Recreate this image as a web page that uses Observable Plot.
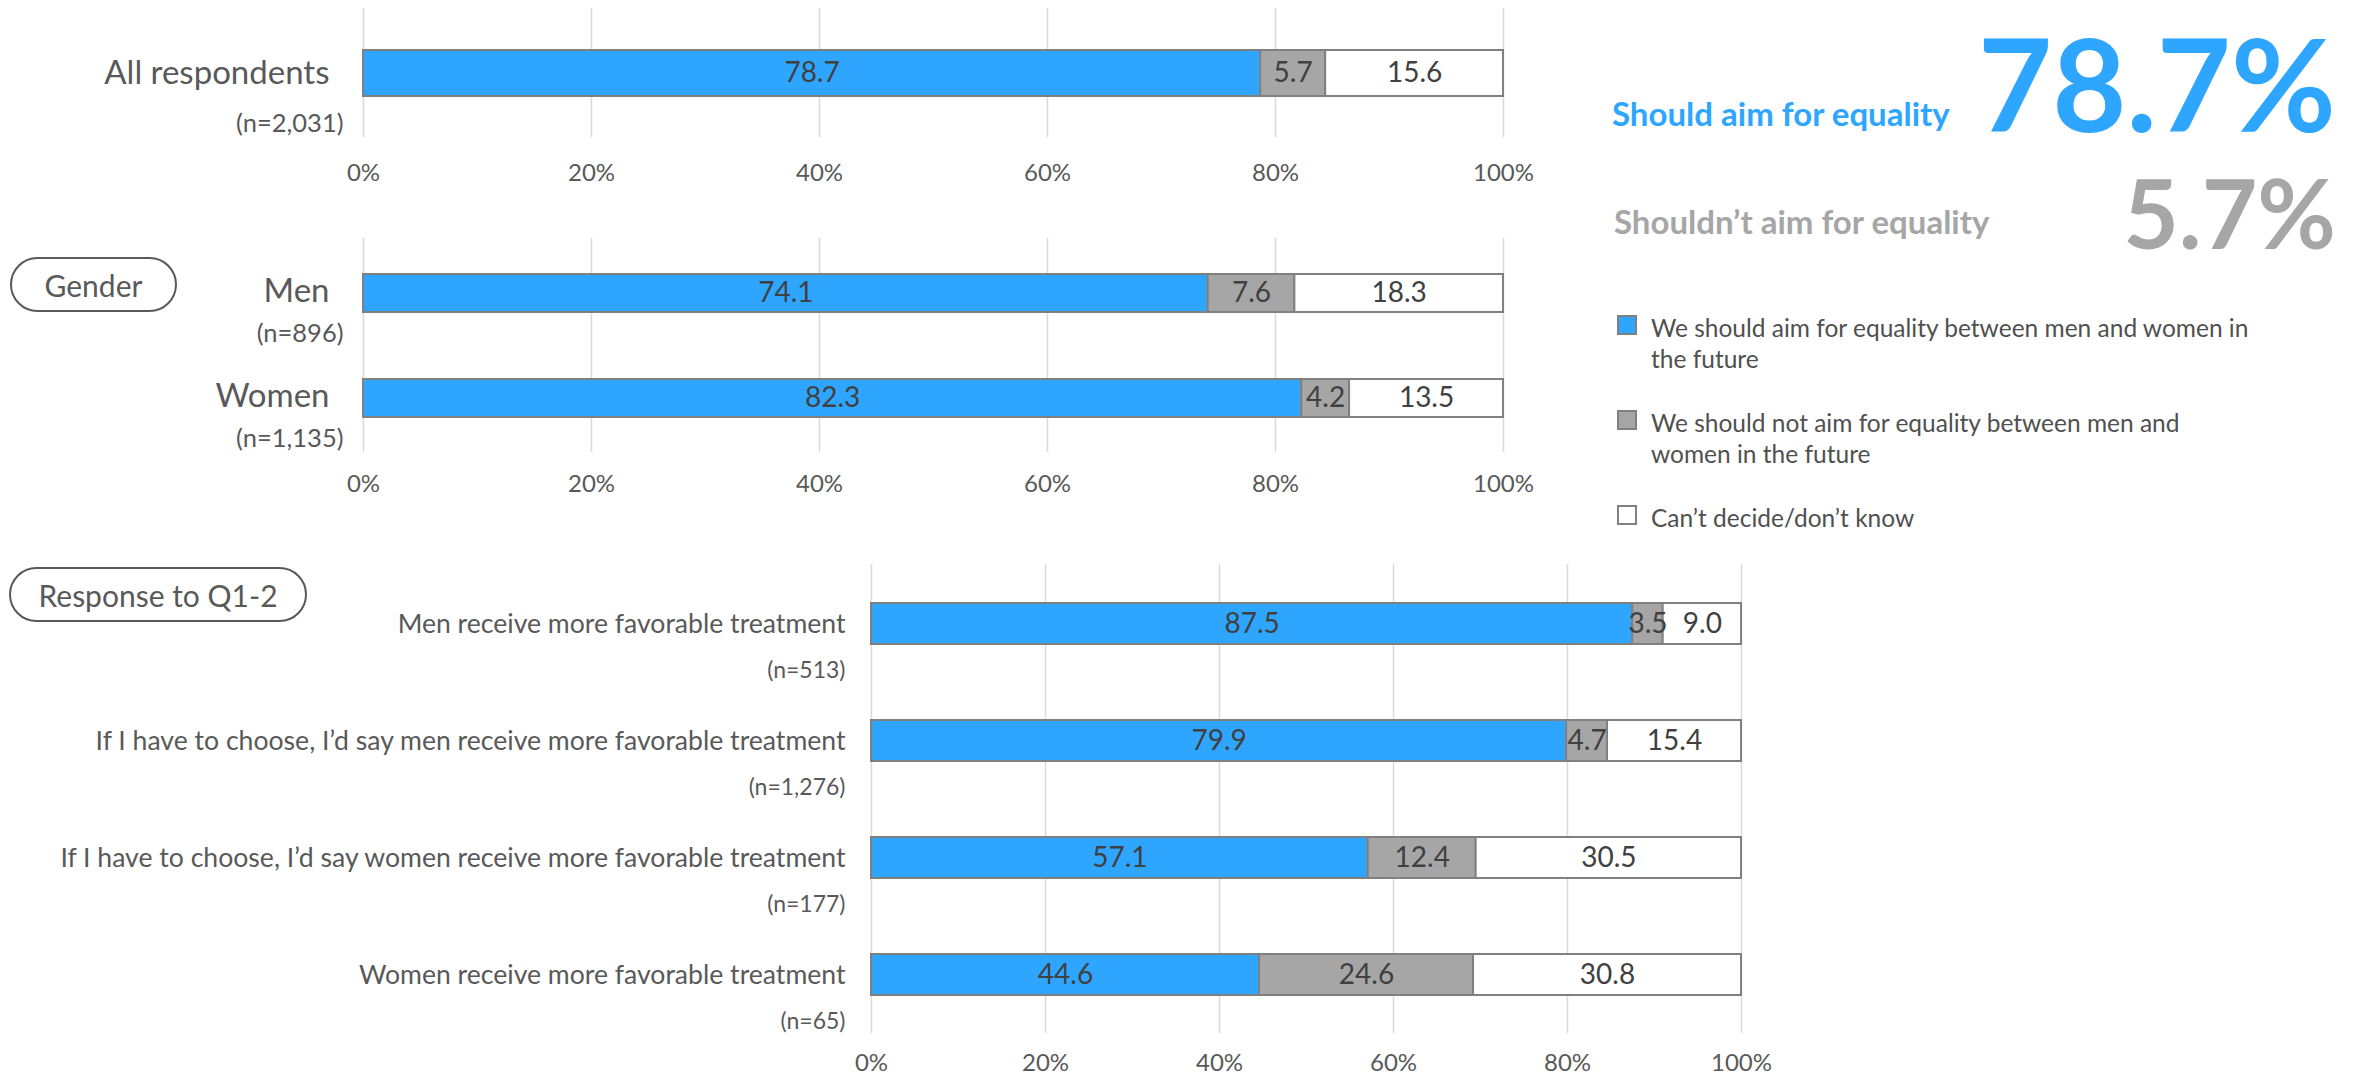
<!DOCTYPE html>
<html><head><meta charset="utf-8">
<script src="https://cdn.jsdelivr.net/npm/d3@7"></script>
<script src="https://cdn.jsdelivr.net/npm/@observablehq/plot@0.6"></script>
<style>
body{margin:0;background:#fff;font-family:Lato,sans-serif;color:#595959}
#root{position:relative;width:2366px;height:1078px;overflow:hidden;background:#fff}
.abs{position:absolute;white-space:nowrap;line-height:1}
.pill{position:absolute;border:2.5px solid #595959;border-radius:30px;box-sizing:border-box;display:flex;align-items:center;justify-content:center;font-size:30px;color:#595959}
.plot{position:absolute;left:0}
.leg{position:absolute;left:1617px;font-size:24.5px;line-height:31px;color:#505050}
.sw{position:absolute;left:0;width:20px;height:20px;box-sizing:border-box;border:2px solid #808080}
.lt{position:absolute;left:34px;width:740px;white-space:pre-line}
</style></head><body><div id="root"></div>
<script>
// ---------- data ----------
const seriesNames = [
  "We should aim for equality between men and women in the future",
  "We should not aim for equality between men and women in the future",
  "Can’t decide/don’t know"
];
const legendLabels = [
  "We should aim for equality between men and women in\nthe future",
  "We should not aim for equality between men and\nwomen in the future",
  "Can’t decide/don’t know"
];
const seriesColors = ["#2EA6FF", "#A6A6A6", "#FFFFFF"];
const xTicks = [0, 20, 40, 60, 80, 100];

const allCategories = ["All respondents"];
const allN = ["(n=2,031)"];
const allAim = [78.7];
const allNotAim = [5.7];
const allDontKnow = [15.6];

const genderCategories = ["Men", "Women"];
const genderN = ["(n=896)", "(n=1,135)"];
const genderAim = [74.1, 82.3];
const genderNotAim = [7.6, 4.2];
const genderDontKnow = [18.3, 13.5];

const q12Categories = [
  "Men receive more favorable treatment",
  "If I have to choose, I’d say men receive more favorable treatment",
  "If I have to choose, I’d say women receive more favorable treatment",
  "Women receive more favorable treatment"
];
const q12N = ["(n=513)", "(n=1,276)", "(n=177)", "(n=65)"];
const q12Aim = [87.5, 79.9, 57.1, 44.6];
const q12NotAim = [3.5, 4.7, 12.4, 24.6];
const q12DontKnow = [9.0, 15.4, 30.5, 30.8];

const headlineLabels = ["Should aim for equality", "Shouldn’t aim for equality"];

// ---------- helpers ----------
const root = document.getElementById("root");
function rowsFor(cats, a, b, c) {
  const rows = [];
  cats.forEach((cat, i) => [a, b, c].forEach((arr, s) => rows.push({cat, series: seriesNames[s], value: arr[i]})));
  return rows;
}
function panel(o) {
  const rows = rowsFor(o.cats, o.aim, o.notAim, o.dk);
  const labels = o.cats.map((c, i) => ({cat: c, n: o.ns[i]}));
  const chart = Plot.plot({
    width: o.width, height: o.height,
    marginTop: o.mt, marginBottom: o.mb, marginLeft: o.ml, marginRight: o.mr,
    style: {fontFamily: "Lato, sans-serif", color: "#595959", background: "transparent", overflow: "visible"},
    x: {domain: [0, 100], label: null},
    y: {domain: o.cats, paddingInner: o.pi, paddingOuter: o.po, axis: null},
    color: {domain: seriesNames, range: seriesColors},
    marks: [
      Plot.gridX(xTicks, {stroke: "#d9d9d9", strokeOpacity: 1, strokeWidth: 1.5}),
      Plot.axisX(xTicks, {tickSize: 0, tickPadding: o.tp, fontSize: 24, tickFormat: d => d + "%", label: null, fill: "#595959"}),
      Plot.barX(rows, Plot.stackX({x: "value", y: "cat", fill: "series", stroke: "#808080", strokeWidth: 2})),
      Plot.text(rows, Plot.stackX({x: "value", y: "cat", z: "series", text: d => d.value.toFixed(1), fontSize: 28, fill: "#404040"})),
      Plot.text(labels, {frameAnchor: "left", y: "cat", text: "cat", textAnchor: "end", dx: o.ldx, dy: o.ldy, fontSize: o.lfs, fill: "#595959"}),
      Plot.text(labels, {frameAnchor: "left", y: "cat", text: "n", textAnchor: "end", dx: o.ndx, dy: o.ndy, fontSize: o.nfs, fill: "#595959"})
    ]
  });
  chart.classList.add("plot");
  chart.style.top = o.top + "px";
  root.appendChild(chart);
}

// ---------- panels ----------
panel({cats: allCategories, ns: allN, aim: allAim, notAim: allNotAim, dk: allDontKnow,
  top: 0, width: 1560, height: 200, mt: 8, mb: 63, ml: 363, mr: 57, pi: 0.474, po: 0.474, tp: 26,
  ldx: -34, ldy: 0, lfs: 33, ndx: -20, ndy: 50, nfs: 25.5});
panel({cats: genderCategories, ns: genderN, aim: genderAim, notAim: genderNotAim, dk: genderDontKnow,
  top: 220, width: 1560, height: 290, mt: 18, mb: 58, ml: 363, mr: 57, pi: 0.64, po: 0.33, tp: 22,
  ldx: -34, ldy: -2, lfs: 33, ndx: -20, ndy: 40, nfs: 25.5});
panel({cats: q12Categories, ns: q12N, aim: q12Aim, notAim: q12NotAim, dk: q12DontKnow,
  top: 540, width: 1800, height: 538, mt: 24, mb: 45, ml: 871, mr: 59, pi: 0.65, po: 0.323, tp: 20,
  ldx: -26, ldy: 0, lfs: 26.6, ndx: -26, ndy: 47, nfs: 23});

// ---------- pills ----------
function pill(text, left, top, w, h) {
  const d = document.createElement("div");
  d.className = "pill";
  Object.assign(d.style, {left: left + "px", top: top + "px", width: w + "px", height: h + "px"});
  d.textContent = text;
  root.appendChild(d);
}
pill("Gender", 10, 257, 167, 55);
pill("Response to Q1-2", 9, 567, 298, 55);

// ---------- headline numbers ----------
function place(text, {left, right, baseline, size, weight, color}) {
  const d = document.createElement("div");
  d.className = "abs";
  d.textContent = text;
  d.style.fontSize = size + "px";
  d.style.fontWeight = weight;
  d.style.color = color;
  d.style.top = (baseline - 0.887 * size) + "px";
  if (left != null) d.style.left = left + "px";
  if (right != null) d.style.right = (2366 - right) + "px";
  root.appendChild(d);
}
place(headlineLabels[0], {left: 1612, baseline: 126, size: 33, weight: 700, color: seriesColors[0]});
place(allAim[0].toFixed(1) + "%", {right: 2336, baseline: 133, size: 128, weight: 700, color: seriesColors[0]});
place(headlineLabels[1], {left: 1614, baseline: 234, size: 33, weight: 700, color: seriesColors[1]});
place(allNotAim[0].toFixed(1) + "%", {right: 2336, baseline: 249, size: 96, weight: 700, color: seriesColors[1]});

// ---------- legend ----------
const legTops = [312, 407, 502];
legendLabels.forEach((name, i) => {
  const item = document.createElement("div");
  item.className = "leg";
  item.style.top = legTops[i] + "px";
  const sw = document.createElement("div");
  sw.className = "sw";
  sw.style.background = seriesColors[i];
  sw.style.top = "3px";
  const t = document.createElement("div");
  t.className = "lt";
  t.textContent = name;
  item.appendChild(sw);
  item.appendChild(t);
  root.appendChild(item);
});
</script></body></html>
